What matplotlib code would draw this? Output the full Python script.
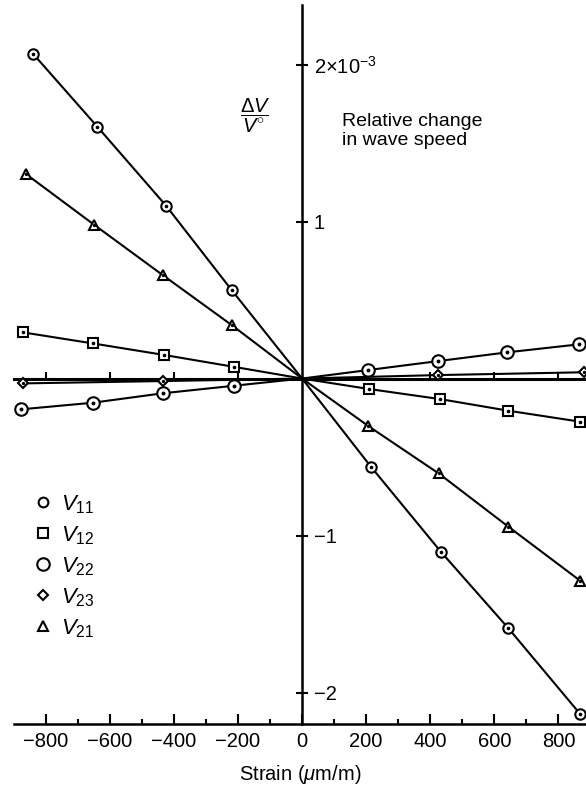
import matplotlib
matplotlib.use("Agg")
import matplotlib.pyplot as plt
from matplotlib.lines import Line2D
from matplotlib.ticker import FixedLocator, FixedFormatter, MultipleLocator

plt.rcParams["font.family"] = ["Liberation Sans", "DejaVu Sans"]
plt.rcParams["mathtext.fontset"] = "custom"
plt.rcParams["mathtext.rm"] = "Liberation Sans"
plt.rcParams["mathtext.it"] = "Liberation Sans:italic"
plt.rcParams["mathtext.bf"] = "Liberation Sans:bold"

# Strain in micro-strain, relative change in wave speed in units of 1e-3
strain_v11 = [-839, -639, -425, -220, 0, 215, 433, 644, 868]
dv_v11 = [2.067, 1.604, 1.102, 0.564, 0.0, -0.562, -1.103, -1.591, -2.137]

strain_v12 = [-871, -654, -430, -214, 0, 210, 431, 644, 868]
dv_v12 = [0.294, 0.224, 0.150, 0.075, 0.0, -0.067, -0.131, -0.205, -0.275]

strain_v22 = [-876, -653, -435, -213, 0, 206, 424, 641, 865]
dv_v22 = [-0.196, -0.154, -0.094, -0.046, 0.0, 0.054, 0.111, 0.167, 0.218]

strain_v23 = [-871, -433, 0, 424, 880]
dv_v23 = [-0.031, -0.016, 0.0, 0.022, 0.040]

strain_v21 = [-862, -648, -435, -220, 0, 207, 426, 644, 868]
dv_v21 = [1.303, 0.978, 0.659, 0.341, 0.0, -0.303, -0.604, -0.944, -1.288]

series_labels = [r"$V_{11}$", r"$V_{12}$", r"$V_{22}$", r"$V_{23}$", r"$V_{21}$"]

x_ticks = [-800, -600, -400, -200, 0, 200, 400, 600, 800]
y_ticks = [-2, -1, 1, 2]
y_tick_labels = ["\u22122", "\u22121", "1", r"$2{\times}10^{-3}$"]

W, H = 586, 788
fig = plt.figure(figsize=(W / 100, H / 100), dpi=100)
ax_left, ax_right = 14, 586
ax_top, ax_bot = 5, 723.5
ax = fig.add_axes([ax_left / W, 1 - ax_bot / H, (ax_right - ax_left) / W, (ax_bot - ax_top) / H])
ax.set_xlim(-899, 886)
ax.set_ylim(-2.197, 2.379)

lw = 1.5
mew = 1.5

def draw(xs, ys, marker, ms, dot_ms):
    idx = [i for i, x in enumerate(xs) if x != 0]
    ax.plot(xs, ys, color="black", lw=lw, marker=marker, ms=ms, mfc="white",
            mec="black", mew=mew, markevery=idx, clip_on=False, zorder=3)
    ax.plot([xs[i] for i in idx], [ys[i] for i in idx], ls="none", marker="o",
            ms=dot_ms, color="black", clip_on=False, zorder=4)

draw(strain_v11, dv_v11, "o", 7.5, 1.6)
draw(strain_v12, dv_v12, "s", 6.5, 1.6)
draw(strain_v22, dv_v22, "o", 9.0, 1.8)
draw(strain_v23, dv_v23, "D", 5.5, 1.4)
draw(strain_v21, dv_v21, "^", 7.5, 1.4)

# axes: vertical axis through zero strain, tick labels to its right
for s in ("left", "top"):
    ax.spines[s].set_visible(False)
ax.spines["right"].set_position(("data", 0))
ax.spines["right"].set_linewidth(1.8)
ax.spines["bottom"].set_linewidth(1.8)
ax.yaxis.tick_right()
ax.yaxis.set_major_locator(FixedLocator(y_ticks))
ax.yaxis.set_major_formatter(FixedFormatter(y_tick_labels))
ax.tick_params(axis="y", direction="inout", length=9, width=1.5, pad=4, labelsize=14.5)

ax.xaxis.set_major_locator(FixedLocator(x_ticks))
ax.xaxis.set_minor_locator(MultipleLocator(100))
ax.tick_params(axis="x", which="major", direction="in", length=7.5, width=1.5, pad=6, labelsize=14.5)
ax.tick_params(axis="x", which="minor", direction="in", length=3.5, width=1.5)
ax.set_xlabel(r"Strain ($\mu$m/m)", fontsize=14.5, labelpad=9)

# horizontal zero line with its own small upward ticks
y0 = (0 - ax.get_ylim()[0]) / (ax.get_ylim()[1] - ax.get_ylim()[0])
sec = ax.secondary_xaxis(y0)
sec.set_alignment("bottom")
sec.spines["bottom"].set_linewidth(2.2)
sec.spines["top"].set_linewidth(2.2)
sec.set_xticks([t for t in x_ticks if t != 0])
sec.tick_params(axis="x", direction="in", length=5, width=1.5, labelbottom=False, labeltop=False)

ax.text(-147, 1.672, r"$\dfrac{\Delta V}{V^{\circ}}$", fontsize=14.5, ha="center", va="center")
ax.text(124, 1.69, "Relative change\nin wave speed", fontsize=14, ha="left", va="top", linespacing=1.15)

handles = [
    Line2D([], [], ls="none", marker="o", ms=7, mfc="white", mec="black", mew=mew),
    Line2D([], [], ls="none", marker="s", ms=6.5, mfc="white", mec="black", mew=mew),
    Line2D([], [], ls="none", marker="o", ms=9, mfc="white", mec="black", mew=mew),
    Line2D([], [], ls="none", marker="D", ms=5.5, mfc="white", mec="black", mew=mew),
    Line2D([], [], ls="none", marker="^", ms=7, mfc="white", mec="black", mew=mew),
]
fig.legend(handles, series_labels, loc="upper left", bbox_to_anchor=(33 / W, 1 - 493 / H),
           bbox_transform=fig.transFigure, frameon=False, fontsize=16, handlelength=0.9,
           handletextpad=0.35, borderpad=0, borderaxespad=0, labelspacing=0.38)

fig.savefig("out.png", dpi=100)
